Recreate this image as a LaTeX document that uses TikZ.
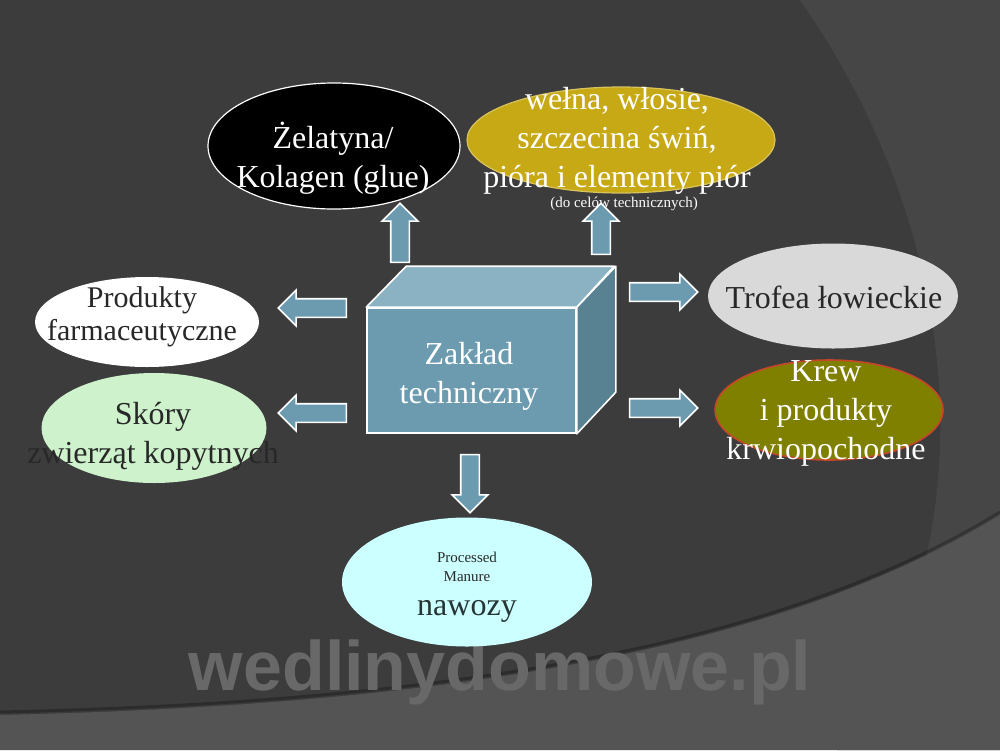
\documentclass[tikz,border=0pt]{standalone}
\usepackage{fontspec}
\setmainfont{Liberation Serif}
\newfontfamily\wmfont{Liberation Sans}
\usetikzlibrary{shapes.geometric, shapes.arrows}

\definecolor{bgdark}{RGB}{60,60,60}
\definecolor{bgright}{RGB}{70,70,70}
\definecolor{bgband}{RGB}{84,84,84}
\definecolor{wmgray}{RGB}{104,104,104}
\definecolor{boxfront}{RGB}{108,155,175}
\definecolor{boxtop}{RGB}{138,178,194}
\definecolor{boxside}{RGB}{88,130,146}
\definecolor{gold}{RGB}{199,169,22}
\definecolor{olive}{RGB}{128,128,0}
\definecolor{krewline}{RGB}{200,70,40}
\definecolor{trofea}{RGB}{217,217,217}
\definecolor{skora}{RGB}{206,243,204}
\definecolor{nawoz}{RGB}{204,255,255}
\definecolor{darktxt}{RGB}{40,40,40}
\definecolor{slatetxt}{RGB}{38,52,52}

\begin{document}
\begin{tikzpicture}[x=0.5pt, y=-0.5pt,
    oval/.style={ellipse, inner sep=0pt, line width=0.6pt},
    bigtxt/.style={align=center, font=\fontsize{16}{19.5}\selectfont},
    smalltxt/.style={align=center, font=\fontsize{7.5}{9.5}\selectfont},
    pfeil/.style={single arrow, fill=boxfront, draw=white, line width=0.8pt,
        inner xsep=0pt, inner ysep=4.25pt, single arrow head extend=4.25pt}]
        \useasboundingbox (0,0) rectangle (1000,750);
        % 背景の描画
        \fill[bgdark] (0,0) rectangle (1000,750);
        \fill[bgright] (800,0) .. controls (975,250) and (985,560) .. (837,750) -- (1000,750) -- (1000,0) -- cycle;
        \fill[bgband] (0,715) .. controls (450,705) and (780,650) .. (1000,515) -- (1000,750) -- (0,750) -- cycle;
        \draw[black, opacity=0.25, line width=1.5pt] (0,712) .. controls (450,702) and (780,647) .. (1000,512);

        % 透かしの描画
        \node[text=wmgray, font=\wmfont\bfseries\fontsize{35}{35}\selectfont, anchor=base] (wm) at (500,690) {wedlinydomowe.pl};

        % 楕円の描画
        \node[oval, fill=black, draw=white, minimum width=126pt, minimum height=63pt] (zel) at (334,146) {};
        \node[oval, fill=gold, draw=gold!70!white, minimum width=154pt, minimum height=53pt] (wel) at (621,140) {};
        \node[oval, fill=white, minimum width=112pt, minimum height=45pt] (far) at (147,322) {};
        \node[oval, fill=skora, minimum width=112.5pt, minimum height=55pt] (sko) at (154,428) {};
        \node[oval, fill=trofea, minimum width=125pt, minimum height=52.5pt] (tro) at (833,296) {};
        \node[oval, fill=olive, draw=krewline, line width=0.8pt, minimum width=114pt, minimum height=50pt] (krew) at (829,410) {};
        \node[oval, fill=nawoz, minimum width=125pt, minimum height=64.5pt] (naw) at (467,582) {};

        % 文字の描画
        \node[bigtxt, text=white] (zelT) at (333,158) {Żelatyna/\\Kolagen (glue)};
        \node[bigtxt, text=white] (welT) at (617,141) {wełna, włosie,\\szczecina świń,\\pióra i elementy piór};
        \node[smalltxt, text=white, anchor=base] (welS) at (624,207) {(do celów technicznych)};
        \node[bigtxt, text=darktxt, font=\fontsize{15}{16.5}\selectfont] (farT) at (142,317) {Produkty\\farmaceutyczne};
        \node[bigtxt, text=darktxt] (skoT) at (153,436) {Skóry\\zwierząt kopytnych};
        \node[bigtxt, text=darktxt, anchor=base] (troT) at (834,308) {Trofea łowieckie};
        \node[bigtxt, text=white] (krewT) at (826,413) {Krew\\i produkty\\krwiopochodne};
        \node[smalltxt, text=darktxt] (procT) at (467,567) {Processed\\Manure};
        \node[bigtxt, text=slatetxt, anchor=base] (nawT) at (467,615) {nawozy};

        % 箱の描画
        \node[draw=white, fill=boxfront, line width=0.8pt, minimum width=104.5pt, minimum height=62.5pt, inner sep=0pt] (zak) at (471.5,370.5) {};
        \draw[white, fill=boxtop, line width=0.8pt, line join=round] (zak.north west) -- ++(40,-41) -- ++(208,0) -- (zak.north east) -- cycle;
        \draw[white, fill=boxside, line width=0.8pt, line join=round] (zak.north east) -- ++(39,-41) -- ++(0,126) -- (zak.south east) -- cycle;
        \node[bigtxt, text=white] (zakT) at (469,376) {Zakład\\techniczny};

        % 矢印の描画
        \foreach \n/\x/\y/\r/\l in {pfL1/317/308/180/34pt, pfL2/317/413/180/34pt, pfR1/659/292/0/34pt, pfR2/659/408/0/34pt,
                pfU1/400/237.5/90/29.5pt, pfU2/601/233.5/90/25.5pt, pfD/470/479/270/29pt}
            \node[pfeil, rotate=\r, minimum height=\l] (\n) at (\x,\y) {};

    \end{tikzpicture}
\end{document}
